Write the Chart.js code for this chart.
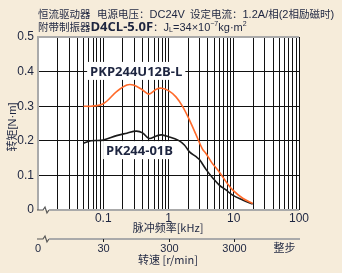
<!DOCTYPE html>
<html>
<head>
<meta charset="utf-8">
<script src="https://cdn.jsdelivr.net/npm/chart.js@4.4.0/dist/chart.umd.min.js"></script>
<style>
  html, body { margin: 0; padding: 0; background: #f6ecda; }
  #wrap { width: 342px; height: 273px; }
</style>
</head>
<body>
<div id="wrap"><canvas id="c" width="342" height="273"></canvas></div>
<script>
// pulse frequency [kHz] / torque [N·m]
const freqPKP = [0.05, 0.065, 0.1, 0.16, 0.23, 0.29, 0.4, 0.5, 0.65, 0.78, 1.0, 1.3, 1.65, 2.1, 2.65, 3.3, 3.8, 4.6, 6.0, 7.6, 9.6, 13.7, 19.5];
const torquePKP = [0.300, 0.300, 0.307, 0.342, 0.361, 0.361, 0.347, 0.335, 0.349, 0.352, 0.345, 0.327, 0.299, 0.260, 0.217, 0.177, 0.162, 0.137, 0.110, 0.082, 0.058, 0.034, 0.019];

const freqPK = [0.05, 0.065, 0.1, 0.16, 0.23, 0.32, 0.4, 0.5, 0.65, 0.78, 1.0, 1.4, 1.75, 2.1, 2.65, 3.0, 3.8, 4.8, 6.0, 7.6, 9.6, 13.7, 19.5];
const torquePK = [0.193, 0.200, 0.202, 0.215, 0.222, 0.228, 0.223, 0.207, 0.214, 0.217, 0.212, 0.202, 0.188, 0.168, 0.154, 0.145, 0.116, 0.092, 0.072, 0.058, 0.043, 0.029, 0.017];

const xTickLabels = [0.1, 1, 10, 100];
const rpmTickLabels = [30, 300, 3000];
const yTicks = [0, 0.1, 0.2, 0.3, 0.4, 0.5];

const seriesNames = ['PKP244U12B-L', 'PK244-01B'];

const TEXT = '#1d2540';
const NARROW = '"Liberation Sans Narrow", "Arial Narrow", Arial, sans-serif';
const CJK = '"Noto Sans CJK SC", "Noto Sans", sans-serif';

function pts(xs, ys) { return xs.map((x, i) => ({ x: x, y: ys[i] })); }

// draw text pieces one after another: [text, font, dy]
function runText(ctx, parts, x, y) {
  parts.forEach(([t, f, dy]) => {
    ctx.font = f;
    ctx.fillText(t, x, y + (dy || 0));
    x += ctx.measureText(t).width;
  });
  return x;
}

const decorPlugin = {
  id: 'decor',
  beforeDraw(chart) {
    const { ctx, chartArea: a } = chart;
    ctx.save();
    ctx.fillStyle = '#ffffff';
    ctx.fillRect(a.left, a.top, a.right - a.left, a.bottom - a.top);
    ctx.restore();
  },
  beforeDatasetsDraw(chart) {
    const { ctx, chartArea: a, scales } = chart;
    const xs = scales.x, ys = scales.y;
    ctx.save();
    // gray frame: left, top, bottom with break mark
    ctx.strokeStyle = '#aaaaaa';
    ctx.lineWidth = 2;
    ctx.beginPath();
    ctx.moveTo(a.left, a.bottom);
    ctx.lineTo(a.left, a.top);
    ctx.lineTo(a.right, a.top);
    ctx.stroke();
    ctx.strokeStyle = '#555555';
    ctx.lineWidth = 1.2;
    ctx.beginPath();
    ctx.moveTo(a.left - 1, a.bottom);
    ctx.lineTo(a.left + 5, a.bottom);
    ctx.lineTo(a.left + 7, a.bottom - 3);
    ctx.lineTo(a.left + 9, a.bottom + 3);
    ctx.lineTo(a.left + 11, a.bottom);
    ctx.stroke();
    ctx.strokeStyle = '#aaaaaa';
    ctx.lineWidth = 2;
    ctx.beginPath();
    ctx.moveTo(a.left + 11, a.bottom);
    ctx.lineTo(a.right, a.bottom);
    ctx.stroke();

    // series labels with white boxes
    ctx.font = 'bold 13px "Open Sans", "DejaVu Sans", sans-serif';
    ctx.textAlign = 'center';
    ctx.textBaseline = 'middle';
    const labs = [[seriesNames[0], 0.32, 0.402], [seriesNames[1], 0.36, 0.173]];
    labs.forEach(([t, fx, ty]) => {
      const px = xs.getPixelForValue(fx), py = ys.getPixelForValue(ty);
      const w = ctx.measureText(t).width;
      ctx.fillStyle = '#ffffff';
      ctx.fillRect(px - w / 2 - 3, py - 9, w + 6, 18);
      ctx.fillStyle = TEXT;
      ctx.fillText(t, px, py + 1);
    });
    ctx.restore();
  },
  afterDraw(chart) {
    const { ctx, chartArea: a, scales } = chart;
    const xs = scales.x;
    const cj = '10.5px ' + CJK, nw = '11px ' + NARROW, sm = '7px ' + NARROW;
    ctx.save();
    ctx.fillStyle = TEXT;
    ctx.textBaseline = 'middle';
    ctx.textAlign = 'left';

    // header line 1
    runText(ctx, [['恒流驱动器', cj]], 38, 14);
    runText(ctx, [['电源电压：', cj], ['DC24V', nw, 0.5]], 97, 14);
    runText(ctx, [['设定电流：', cj], ['1.2A/', nw, 0.5], ['相', cj], ['(2', nw, 0.5], ['相励磁时', cj], [')', nw, 0.5]], 190, 14);

    // header line 2
    let x = runText(ctx, [['附带制振器', cj], ['D4CL-5.0F', 'bold 13px "Open Sans", "DejaVu Sans", sans-serif', 0.5], ['：', cj]], 38, 27);
    runText(ctx, [['J', nw, 1], ['L', sm, 3], ['=34×10', nw, 1], ['−7', sm, -3], ['kg·m', nw, 1], ['2', sm, -3]], x, 27);

    // y axis title
    ctx.save();
    ctx.translate(12, 127);
    ctx.rotate(-Math.PI / 2);
    ctx.font = '11px ' + CJK;
    const w1 = ctx.measureText('转矩').width;
    ctx.font = nw;
    const w2 = ctx.measureText('[N·m]').width;
    runText(ctx, [['转矩', '11px ' + CJK], ['[N·m]', nw, 0.5]], -(w1 + w2) / 2, 0);
    ctx.restore();

    // x axis title
    ctx.textAlign = 'center';
    ctx.font = '11px ' + CJK;
    ctx.fillText('脉冲频率[kHz]', 168, 228);

    // secondary speed axis (30 r/min = 0.1 kHz)
    const ry = 239;
    ctx.strokeStyle = '#555555';
    ctx.lineWidth = 1.2;
    ctx.beginPath();
    ctx.moveTo(a.left - 1, ry);
    ctx.lineTo(a.left + 5, ry);
    ctx.lineTo(a.left + 7, ry - 3);
    ctx.lineTo(a.left + 9, ry + 3);
    ctx.lineTo(a.left + 11, ry);
    ctx.stroke();
    ctx.strokeStyle = '#aaaaaa';
    ctx.lineWidth = 2;
    ctx.beginPath();
    ctx.moveTo(a.left + 11, ry);
    ctx.lineTo(a.right + 1, ry);
    ctx.stroke();
    ctx.strokeStyle = '#222222';
    ctx.lineWidth = 1;
    ctx.font = '11px ' + NARROW;
    ctx.fillText('0', a.left, 249);
    rpmTickLabels.forEach(r => {
      const px = Math.round(xs.getPixelForValue(r / 300)) + 0.5;
      ctx.beginPath();
      ctx.moveTo(px, ry);
      ctx.lineTo(px, ry + 3);
      ctx.stroke();
      ctx.fillText(String(r), px, 249);
    });
    ctx.font = '11px ' + CJK;
    ctx.fillText('整步', xs.getPixelForValue(60), 248);
    ctx.fillText('转速 [r/min]', 168, 260);
    ctx.restore();
  }
};

// log grid positions 1..9 per decade
const gridVals = [];
for (let e = -2; e <= 1; e++) {
  for (let m = 1; m <= 9; m++) gridVals.push(+(m * Math.pow(10, e)).toPrecision(3));
}
gridVals.push(100);

new Chart(document.getElementById('c').getContext('2d'), {
  type: 'line',
  data: {
    datasets: [
      {
        label: seriesNames[0],
        data: pts(freqPKP, torquePKP),
        borderColor: '#ff6a2a',
        borderWidth: 1.6,
        pointRadius: 0,
        tension: 0.35,
        fill: false
      },
      {
        label: seriesNames[1],
        data: pts(freqPK, torquePK),
        borderColor: '#1a1a1a',
        borderWidth: 1.6,
        pointRadius: 0,
        tension: 0.35,
        fill: false
      }
    ]
  },
  options: {
    responsive: false,
    animation: false,
    layout: { padding: { top: 37, right: 43, left: 0, bottom: 0 } },
    plugins: {
      legend: { display: false },
      tooltip: { enabled: false }
    },
    scales: {
      x: {
        type: 'logarithmic',
        min: 0.01,
        max: 100,
        afterBuildTicks: s => { s.ticks = gridVals.map(v => ({ value: v })); },
        afterFit: s => { s.height = 63; },
        border: { display: false },
        grid: {
          drawTicks: false,
          color: c => (c.tick && c.tick.value === 0.01) ? 'rgba(0,0,0,0)' : '#111111',
          lineWidth: 1
        },
        ticks: {
          autoSkip: false,
          maxRotation: 0,
          padding: 1,
          color: TEXT,
          font: { family: NARROW, size: 12 },
          callback: v => xTickLabels.includes(v) ? String(v) : ''
        }
      },
      y: {
        min: 0,
        max: 0.5,
        afterBuildTicks: s => { s.ticks = yTicks.map(v => ({ value: v })); },
        afterFit: s => { s.width = 38; },
        border: { display: false },
        grid: {
          drawTicks: false,
          color: c => (c.tick && (c.tick.value === 0 || c.tick.value === 0.5)) ? 'rgba(0,0,0,0)' : '#111111',
          lineWidth: 1
        },
        ticks: {
          padding: 4,
          color: TEXT,
          font: { family: NARROW, size: 12 },
          callback: v => v === 0 ? '0' : v.toFixed(1)
        }
      }
    }
  },
  plugins: [decorPlugin]
});
</script>
</body>
</html>
